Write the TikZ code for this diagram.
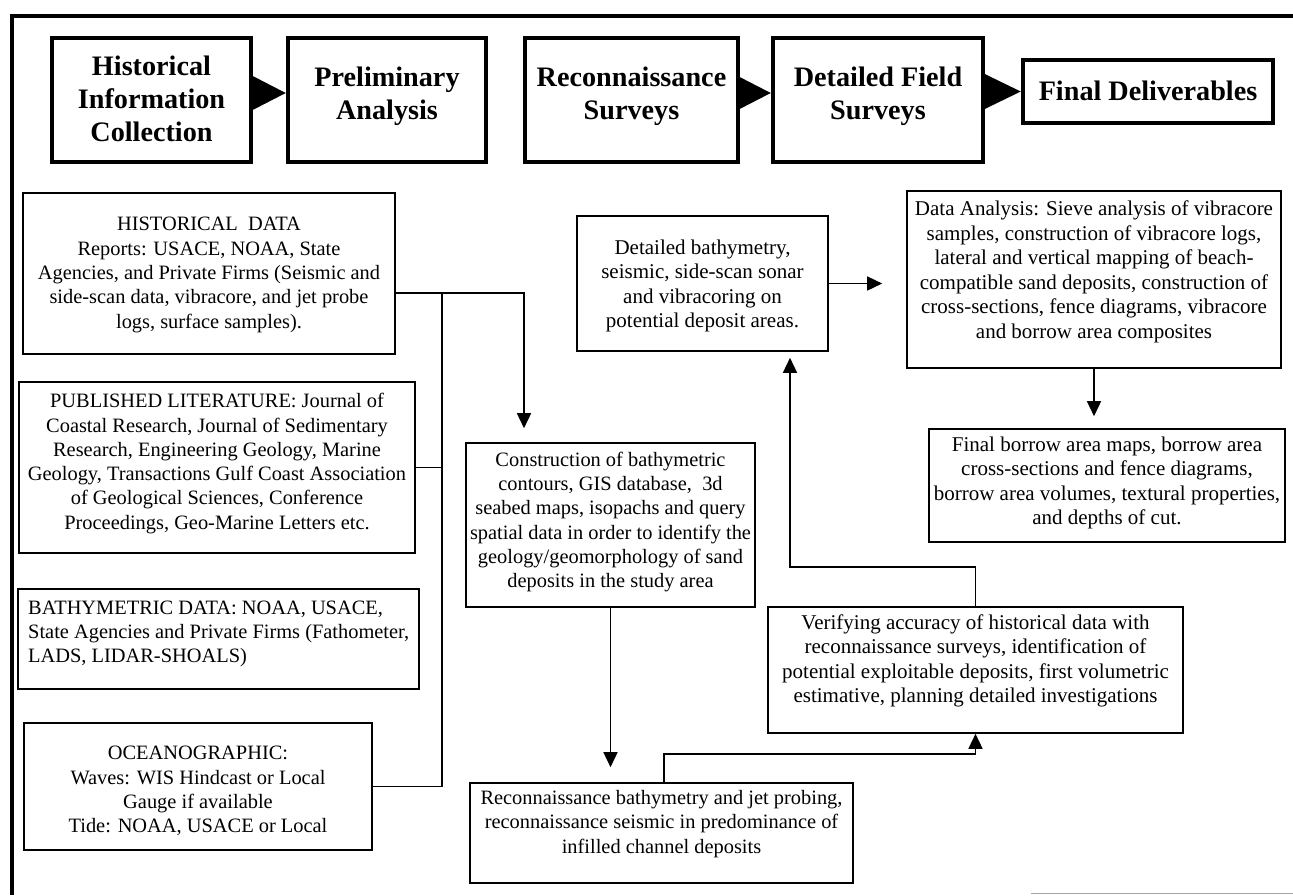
\documentclass[tikz,border=0pt]{standalone}
\usepackage{fontspec}
\setmainfont{Liberation Serif}
\usetikzlibrary{arrows.meta,calc}
\begin{document}
\begin{tikzpicture}[x=1pt,y=-1pt,
 hbox/.style={draw, line width=4.5pt, inner sep=0pt},
 bbox/.style={draw, line width=1.6pt, inner sep=0pt},
 htxt/.style={font=\fontsize{28.2}{33}\selectfont\bfseries, align=center, inner sep=0pt},
 ltxt/.style={font=\fontsize{20.4}{24.3}\selectfont, align=center, inner sep=0pt},
 rtxt/.style={font=\fontsize{21}{24.5}\selectfont, align=center, inner sep=0pt},
 conn/.style={line width=1.5pt},
 arr/.style={conn, -{Triangle[length=15pt,width=14pt]}},
 harr/.style={-{Triangle[length=#1,width=35pt]}, line width=0pt},
 harr/.default=34pt
]
\useasboundingbox (0,0) rectangle (1293,895);
% frame
\draw[line width=4.5pt] (12,895) -- (12,16) -- (1293,16);
\draw[line width=1pt, gray!70] (1031,893) -- (1293,893);

% header boxes
\node[hbox, minimum width=199pt, minimum height=124pt] (H1) at (151.5,100) {};
\node[hbox, minimum width=198pt, minimum height=124pt] (H2) at (387,100) {};
\node[hbox, minimum width=213pt, minimum height=124pt] (H3) at (631.5,100) {};
\node[hbox, minimum width=210pt, minimum height=124pt] (H4) at (878,100) {};
\node[hbox, minimum width=250pt, minimum height=63pt] (H5) at (1148,91.5) {};
\node[htxt] (H1t) at (151.5,99) {Historical\\Information\\Collection};
\node[htxt] (H2t) at (387,96.5) {Preliminary\\Analysis};
\node[htxt] (H3t) at (631.5,96.5) {Reconnaissance\\Surveys};
\node[htxt] (H4t) at (878,96.5) {Detailed Field\\Surveys};
\node[htxt] (H5t) at (1148,91) {Final Deliverables};
\draw[harr] ($(H1.east)+(0,-7)$) -- ($(H2.west)+(0,-7)$);
\draw[harr] ($(H3.east)+(0,-7)$) -- ($(H4.west)+(0,-7)$);
\draw[harr=36pt] (H4.east |- H5.west) -- (H5.west);

% left column
\node[bbox, minimum width=372pt, minimum height=161pt] (B1) at (209,273.5) {};
\node[ltxt] (B1t) at (209,275) {HISTORICAL\ \ DATA\\Reports: USACE, NOAA, State\\Agencies, and Private Firms (Seismic and\\side-scan data, vibracore, and jet probe\\logs, surface samples).};
\node[bbox, minimum width=396pt, minimum height=171pt] (B2) at (217,467.5) {};
\node[ltxt] (B2t) at (217,463.5) {PUBLISHED LITERATURE: Journal of\\Coastal Research, Journal of Sedimentary\\Research, Engineering Geology, Marine\\Geology, Transactions Gulf Coast Association\\of Geological Sciences, Conference\\Proceedings, Geo-Marine Letters etc.};
\node[bbox, minimum width=401pt, minimum height=100pt] (B3) at (218.5,639) {};
\node[ltxt, align=left, anchor=west] (B3t) at (28,634) {BATHYMETRIC DATA: NOAA, USACE,\\State Agencies and Private Firms (Fathometer,\\LADS, LIDAR-SHOALS)};
\node[bbox, minimum width=348pt, minimum height=127pt] (B4) at (198,786.5) {};
\node[ltxt] (B4t) at (198,791) {OCEANOGRAPHIC:\\Waves: WIS Hindcast or Local\\Gauge if available\\Tide: NOAA, USACE or Local};

% middle / right
\node[bbox, minimum width=289pt, minimum height=164pt] (C) at (610.5,525) {};
\node[ltxt] (Ct) at (610.5,522) {Construction of bathymetric\\contours, GIS database,\ \ 3d\\seabed maps, isopachs and query\\spatial data in order to identify the\\geology/geomorphology of sand\\deposits in the study area};
\node[bbox, minimum width=383pt, minimum height=100pt] (R) at (661.5,833) {};
\node[ltxt] (Rt) at (661.5,824) {Reconnaissance bathymetry and jet probing,\\reconnaissance seismic in predominance of\\infilled channel deposits};
\node[bbox, minimum width=251pt, minimum height=135pt] (D) at (702.5,283.5) {};
\node[rtxt] (Dt) at (702.5,286) {Detailed bathymetry,\\seismic, side-scan sonar\\and vibracoring on\\potential deposit areas.};
\node[bbox, minimum width=374pt, minimum height=177pt] (DA) at (1094,279.5) {};
\node[rtxt] (DAt) at (1094,272) {Data Analysis: Sieve analysis of vibracore\\samples, construction of vibracore logs,\\lateral and vertical mapping of beach-\\compatible sand deposits, construction of\\cross-sections, fence diagrams, vibracore\\and borrow area composites};
\node[bbox, minimum width=356pt, minimum height=113pt] (FB) at (1107,485.5) {};
\node[rtxt] (FBt) at (1107,483) {Final borrow area maps, borrow area\\cross-sections and fence diagrams,\\borrow area volumes, textural properties,\\and depths of cut.};
\node[bbox, minimum width=415pt, minimum height=126pt] (V) at (975.5,670) {};
\node[rtxt] (Vt) at (975.5,661) {Verifying accuracy of historical data with\\reconnaissance surveys, identification of\\potential exploitable deposits, first volumetric\\estimative, planning detailed investigations};

% connectors
\coordinate (busTop) at (442,293);
\coordinate (c1) at (524,293);
\draw[arr, shorten >=14pt] (B1.east |- busTop) -- (c1) -- (c1 |- C.north);
\draw[conn] (B4.east) -| (busTop);
\draw[conn] (B2.east) -- (B2.east -| busTop);
\draw[arr, shorten >=15pt] (C.south) -- (C.south |- R.north);
\coordinate (rv) at (664,754);
\draw[arr] (R.north -| rv) -- (rv) -| (V.south);
\coordinate (vd) at (790,567);
\draw[arr, shorten >=6pt] (V.north) |- (vd) -- (vd |- D.south);
\draw[arr, shorten >=24pt] (D.east) -- (D.east -| DA.west);
\draw[arr, shorten >=12pt] (DA.south) -- (DA.south |- FB.north);
\end{tikzpicture}
\end{document}
